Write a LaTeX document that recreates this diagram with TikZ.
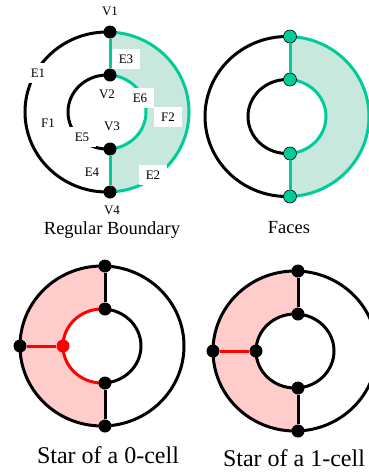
\documentclass[tikz,border=0pt]{standalone}
\usepackage{fontspec}
\setmainfont{Liberation Serif}
\usetikzlibrary{positioning}
\definecolor{edgegreen}{RGB}{0,204,153}
\definecolor{facegreen}{RGB}{200,232,222}
\definecolor{starpink}{RGB}{255,204,204}
\definecolor{starred}{RGB}{255,0,0}
\tikzset{
  vdot/.style={circle, fill=black, inner sep=0pt, minimum size=13pt},
  gdot/.style={circle, draw=black, line width=0.6pt, fill=edgegreen, inner sep=0pt, minimum size=13pt},
  rdot/.style={vdot, fill=starred},
  wire/.style={line width=3pt},
  elabel/.style={fill=white, inner xsep=7pt, inner ysep=6pt, font=\fontsize{13}{15}\selectfont},
  vlabel/.style={inner sep=1pt, font=\fontsize{13}{15}\selectfont},
  smallcap/.style={font=\fontsize{18.5}{21}\selectfont},
  bigcap/.style={font=\fontsize{24}{27}\selectfont},
}

\begin{document}
\begin{tikzpicture}[x=1pt, y=-1pt]
\useasboundingbox (0,0) rectangle (369,472);

% regular boundary
\begin{scope}[shift={(107,112)}]
  \begin{scope}
    \clip (3,-95) rectangle (95,95);
    \fill[facegreen, even odd rule] (0,0) ellipse [x radius=82, y radius=80]
                                    (0,0) ellipse [x radius=39, y radius=37];
    \draw[wire, edgegreen] (0,0) ellipse [x radius=82, y radius=80]
                           (0,0) ellipse [x radius=39, y radius=37];
  \end{scope}
  \begin{scope}
    \clip (3,-95) rectangle (-95,95);
    \draw[wire] (0,0) ellipse [x radius=82, y radius=80]
                (0,0) ellipse [x radius=39, y radius=37];
  \end{scope}
  \node[vdot] (v1) at (3,-80) {};
  \node[vdot] (v2) at (3,-37) {};
  \node[vdot] (v3) at (3,37) {};
  \node[vdot] (v4) at (3,80) {};
  \draw[wire, edgegreen] (v1) -- (v2) (v3) -- (v4);
\end{scope}
\node[vlabel, above=8pt of v1] (lv1) {V1};
\node[vlabel, below=7pt of v2, xshift=-3pt] (lv2) {V2};
\node[vlabel, above=10pt of v3, xshift=2pt] (lv3) {V3};
\node[vlabel, below=6pt of v4, xshift=2pt] (lv4) {V4};
\node[elabel] (le1) at (38,73) {E1};
\node[elabel] (le2) at (153,175) {E2};
\node[elabel] (le3) at (126,59) {E3};
\node[elabel] (le4) at (92,172) {E4};
\node[elabel] (le5) at (82,137) {E5};
\node[elabel] (le6) at (140,98) {E6};
\node[elabel] (lf1) at (48,123) {F1};
\node[elabel] (lf2) at (168,117) {F2};
\node[smallcap] (cap1) at (112,230) {Regular Boundary};

% faces
\begin{scope}[shift={(287,116.5)}]
  \begin{scope}
    \clip (3,-95) rectangle (95,95);
    \fill[facegreen, even odd rule] (0,0) ellipse [x radius=82, y radius=80]
                                    (0,0) ellipse [x radius=39, y radius=37];
    \draw[wire, edgegreen] (0,0) ellipse [x radius=82, y radius=80]
                           (0,0) ellipse [x radius=39, y radius=37];
  \end{scope}
  \begin{scope}
    \clip (3,-95) rectangle (-95,95);
    \draw[wire] (0,0) ellipse [x radius=82, y radius=80]
                (0,0) ellipse [x radius=39, y radius=37];
  \end{scope}
  \node[gdot] (f1) at (3,-80) {};
  \node[gdot] (f2) at (3,-37) {};
  \node[gdot] (f3) at (3,37) {};
  \node[gdot] (f4) at (3,80) {};
  \draw[wire, edgegreen] (f1) -- (f2) (f3) -- (f4);
\end{scope}
\node[smallcap] (cap2) at (289,228) {Faces};

% star of a 0-cell
\begin{scope}[shift={(102,346)}]
  \begin{scope}
    \clip (3,-95) rectangle (-95,95);
    \fill[starpink, even odd rule] (0,0) ellipse [x radius=82, y radius=80]
                                   (0,0) ellipse [x radius=39, y radius=37];
    \draw[wire, starred] (0,0) ellipse [x radius=39, y radius=37];
  \end{scope}
  \begin{scope}
    \clip (3,-95) rectangle (95,95);
    \draw[wire] (0,0) ellipse [x radius=39, y radius=37];
  \end{scope}
  \draw[wire] (0,0) ellipse [x radius=82, y radius=80];
  \node[vdot] (a1) at (3,-80) {};
  \node[vdot] (a2) at (3,-37) {};
  \node[vdot] (a3) at (3,37) {};
  \node[vdot] (a4) at (3,80) {};
  \node[vdot] (a5) at (-82,0) {};
  \node[rdot] (a6) at (-39,0) {};
  \draw[wire] (a1) -- (a2) (a3) -- (a4);
  \draw[wire, starred] (a5) -- (a6);
\end{scope}
\node[bigcap] (cap3) at (108,455) {Star of a 0-cell};

% star of a 1-cell
\begin{scope}[shift={(295,351)}]
  \begin{scope}
    \clip (3,-95) rectangle (-95,95);
    \fill[starpink, even odd rule] (0,0) ellipse [x radius=82, y radius=80]
                                   (0,0) ellipse [x radius=39, y radius=37];
  \end{scope}
  \draw[wire] (0,0) ellipse [x radius=82, y radius=80]
              (0,0) ellipse [x radius=39, y radius=37];
  \node[vdot] (b1) at (3,-80) {};
  \node[vdot] (b2) at (3,-37) {};
  \node[vdot] (b3) at (3,37) {};
  \node[vdot] (b4) at (3,80) {};
  \node[vdot] (b5) at (-82,0) {};
  \node[vdot] (b6) at (-39,0) {};
  \draw[wire] (b1) -- (b2) (b3) -- (b4);
  \draw[wire, starred] (b5) -- (b6);
\end{scope}
\node[bigcap] (cap4) at (294,458) {Star of a 1-cell};
\end{tikzpicture}
\end{document}
